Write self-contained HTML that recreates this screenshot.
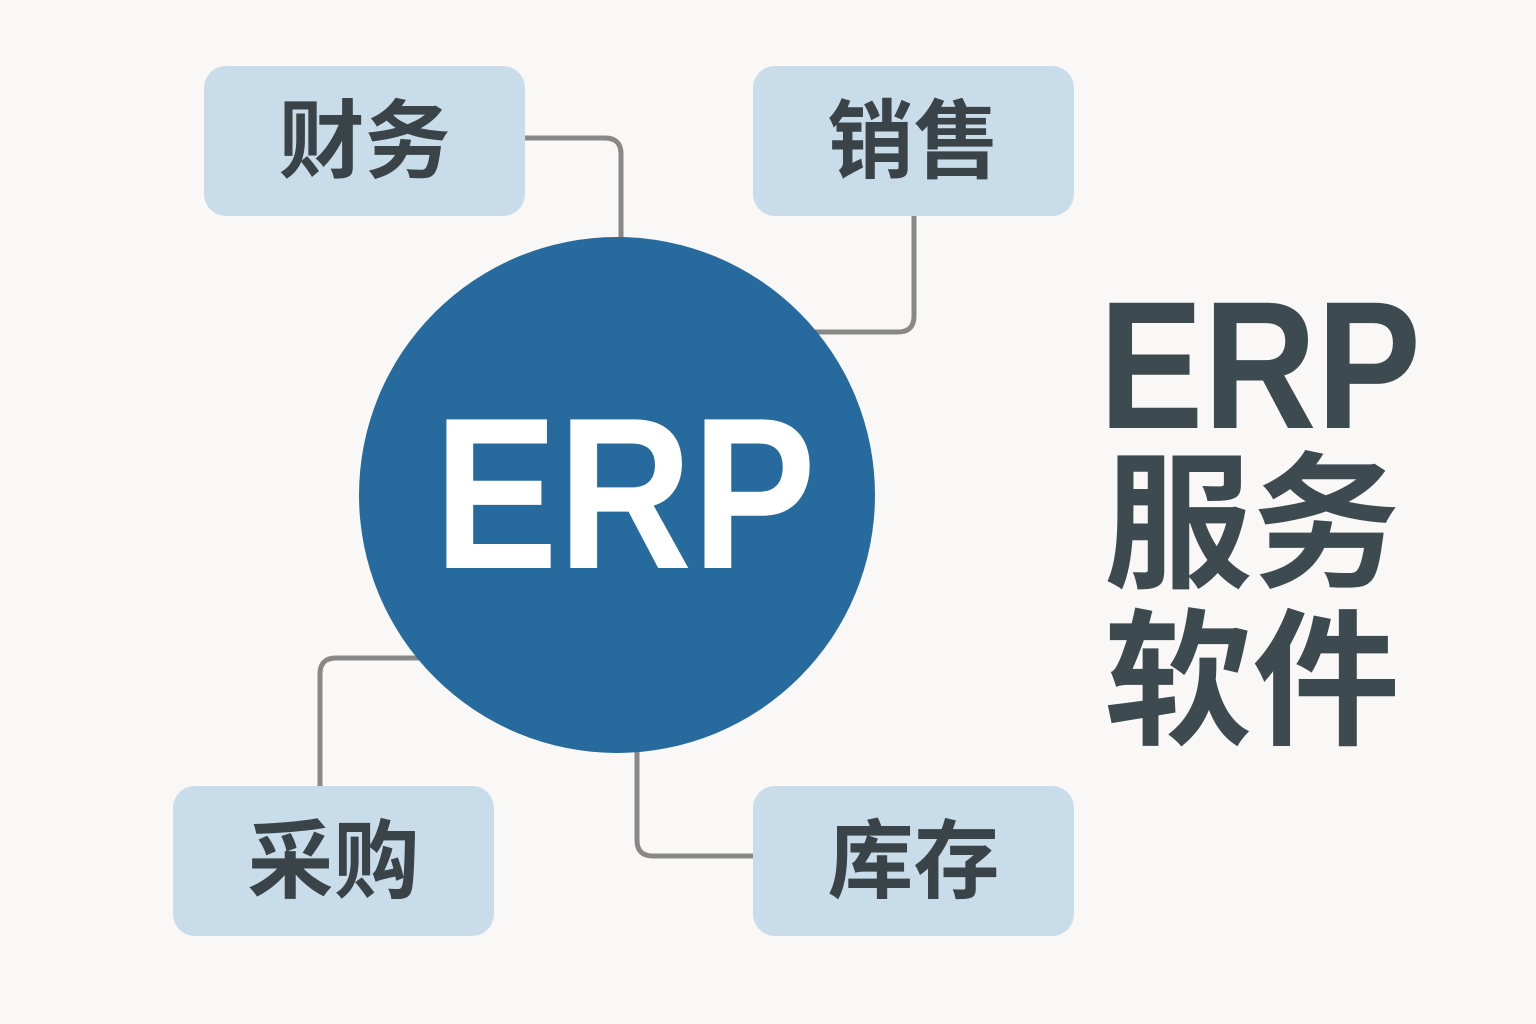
<!DOCTYPE html>
<html><head><meta charset="utf-8"><style>
html,body{margin:0;padding:0;}
body{width:1536px;height:1024px;background:#f9f8f6;position:relative;overflow:hidden;font-family:"Liberation Sans","Noto Sans CJK SC",sans-serif;}
.box{position:absolute;width:321px;height:150px;background:#c9dcea;border-radius:22px;}
.box span{position:absolute;left:0;right:0;top:33px;text-align:center;font-size:86px;line-height:1;font-weight:bold;color:#3a4448;}
.t{position:absolute;color:#3d4a4f;font-weight:bold;line-height:1;}
</style></head><body>
<svg width="1536" height="1024" style="position:absolute;left:0;top:0">
<g fill="none" stroke="#888" stroke-width="5">
<path d="M525 138 H605 Q621 138 621 154 V245"/>
<path d="M914 216 V316 Q914 332 898 332 H815"/>
<path d="M422 658 H336 Q320 658 320 674 V786"/>
<path d="M637 745 V840 Q637 856 653 856 H753"/>
</g>
<circle cx="617" cy="495" r="258" fill="#276a9e"/>
<text x="434" y="568" textLength="382" lengthAdjust="spacingAndGlyphs" font-family="Liberation Sans" font-weight="bold" font-size="216" fill="#fff">ERP</text>
<text x="1099" y="428" textLength="322" lengthAdjust="spacingAndGlyphs" font-family="Liberation Sans" font-weight="bold" font-size="182" fill="#3d4a4f">ERP</text>
</svg>
<div class="box" style="left:204px;top:66px"><span>财务</span></div>
<div class="box" style="left:753px;top:66px"><span>销售</span></div>
<div class="box" style="left:173px;top:786px"><span>采购</span></div>
<div class="box" style="left:753px;top:786px"><span>库存</span></div>
<div class="t" style="left:1104px;top:452px;font-size:148px">服务</div>
<div class="t" style="left:1104px;top:609px;font-size:148px">软件</div>
</body></html>
